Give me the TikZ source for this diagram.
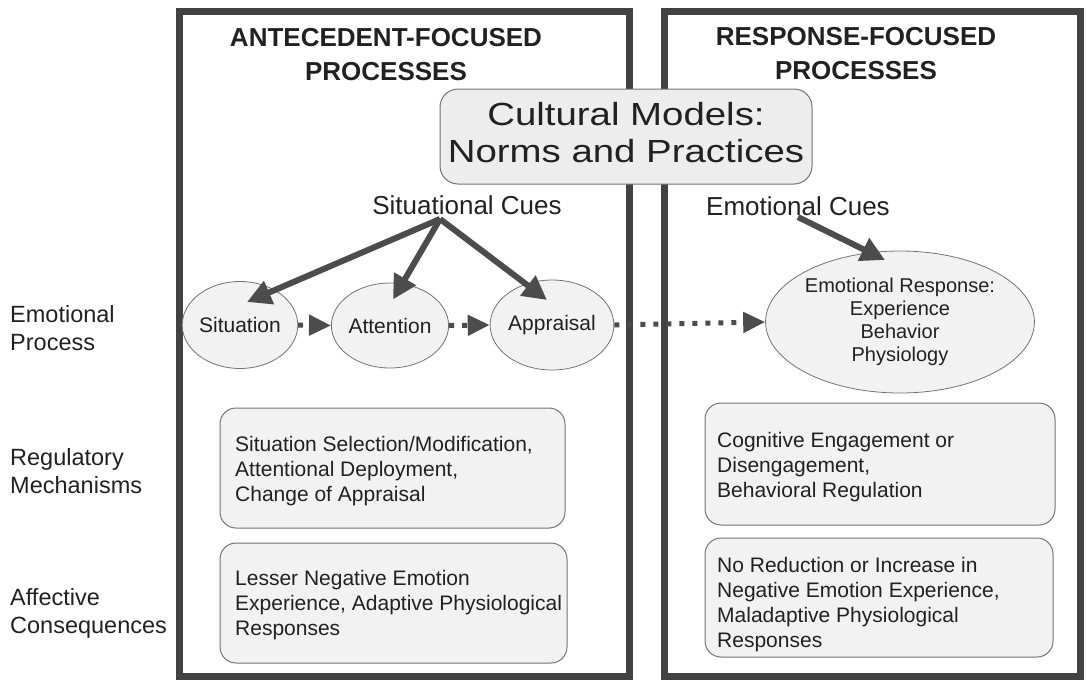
\documentclass[tikz,border=0pt]{standalone}
\usepackage{fontspec}
\usepackage{graphicx}
\setmainfont{Liberation Sans}
\usetikzlibrary{arrows.meta,shapes.geometric,calc}

\definecolor{ink}{gray}{0.13}
\definecolor{framec}{gray}{0.26}
\definecolor{arrowc}{gray}{0.3}
\definecolor{stip}{gray}{0.95}
\definecolor{stipdark}{gray}{0.93}

\tikzset{
  panel/.style={draw=framec, line width=7pt},
  header/.style={font=\bfseries\fontsize{26}{34}\selectfont, align=center,
    anchor=north, inner sep=0pt, text=ink},
  rowlabel/.style={font=\fontsize{23.5}{28.5}\selectfont, align=left,
    anchor=north west, inner sep=0pt, text=ink},
  proc/.style={ellipse, draw=black!55, line width=0.8pt, fill=stip,
    inner sep=0pt, font=\fontsize{21}{25}\selectfont, text=ink},
  infobox/.style={draw=black!55, line width=1pt, fill=stip,
    rounded corners=16pt, inner sep=0pt},
  boxtext/.style={font=\fontsize{21}{25}\selectfont, align=left,
    anchor=north west, inner sep=0pt, text=ink},
  cue/.style={font=\fontsize{26}{30}\selectfont, anchor=base,
    inner sep=1pt, text=ink},
  bigarrow/.style={draw=arrowc, line width=6pt,
    -{Triangle[length=24pt,width=24pt]}},
  dotarrow/.style={draw=arrowc, line width=5pt, dash pattern=on 5pt off 8pt,
    -{Triangle[length=22pt,width=20pt]}},
}

\begin{document}
\begin{tikzpicture}[x=1pt,y=-1pt]
\useasboundingbox (0,0) rectangle (1087,683);

% the two process panels
\draw[panel] (179,11) rectangle (629,676);
\draw[panel] (664,11) rectangle (1080,676);

% panel headings
\node[header] (anthead) at (386,28) {ANTECEDENT-FOCUSED\\PROCESSES};
\node[header] (reshead) at (856,27) {RESPONSE-FOCUSED\\PROCESSES};

% cultural models box straddling both panels
\node[draw=black!55, line width=1pt, fill=stipdark, rounded corners=18pt,
      minimum width=372, minimum height=95, inner sep=0pt, text=ink]
  (culture) at (626,136.5)
  {\fontsize{32}{37}\selectfont\scalebox{1.2}[1]{\begin{tabular}{@{}c@{}}Cultural Models:\\Norms and Practices\end{tabular}}};

% row labels
\node[rowlabel] (lblproc) at (10,305) {Emotional\\Process};
\node[rowlabel] (lblreg)  at (10,448) {Regulatory\\Mechanisms};
\node[rowlabel] (lblcons) at (10,588) {Affective\\Consequences};

% cues
\node[cue] (scues) at (467,214.6) {Situational Cues};
\node[cue] (ecues) at (798,215.6) {Emotional Cues};
\coordinate (cueapex) at (440,219);

% emotional process stages
\node[proc, minimum width=104, minimum height=87] (sit) at (240,325) {Situation};
\node[proc, minimum width=114, minimum height=85] (att) at (390,325.5) {Attention};
\node[proc, minimum width=115, minimum height=90] (app) at (552,325) {Appraisal};
\node[proc, minimum width=266, minimum height=142,
      font=\fontsize{20}{23}\selectfont, align=center] (er) at (900,322)
  {Emotional Response:\\Experience\\Behavior\\Physiology};

% regulatory mechanisms and consequences
\node[infobox, minimum width=345, minimum height=120] (antreg) at (392.5,468) {};
\node[boxtext] (antregtxt) at (235,436)
  {Situation Selection/Modification,\\Attentional Deployment,\\Change of Appraisal};
\node[infobox, minimum width=347, minimum height=120] (antcons) at (393.5,603) {};
\node[boxtext] (antconstxt) at (235,570)
  {Lesser Negative Emotion\\Experience, Adaptive Physiological\\Responses};
\node[infobox, minimum width=350, minimum height=122] (resreg) at (880,464) {};
\node[boxtext] (resregtxt) at (717,432)
  {Cognitive Engagement or\\Disengagement,\\Behavioral Regulation};
\node[infobox, minimum width=348, minimum height=119] (rescons) at (879,597.5) {};
\node[boxtext] (resconstxt) at (717,557)
  {No Reduction or Increase in\\Negative Emotion Experience,\\Maladaptive Physiological\\Responses};

% cue arrows
\draw[bigarrow] (cueapex) -- ([shift={(7,-23)}]sit.center);
\draw[bigarrow] (cueapex) -- ([shift={(3,-26)}]att.center);
\draw[bigarrow] (cueapex) -- ([shift={(-5,-25)}]app.center);
\draw[bigarrow] (ecues.south) -- ([shift={(-15,-62)}]er.center);

% process sequence
\draw[dotarrow] (sit.east) -- (att.west);
\draw[dotarrow] (att.east) -- (app.west);
\draw[dotarrow] (app.east) -- (er.west);
\end{tikzpicture}
\end{document}
